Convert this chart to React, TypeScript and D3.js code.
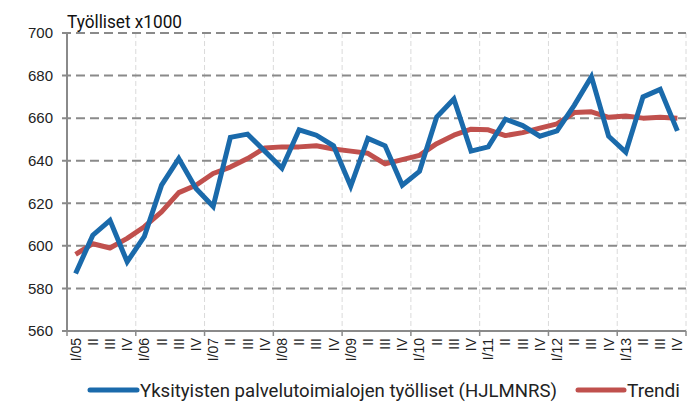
import React from "react";
import * as d3 from "d3";

const quarters = ["I/05","II","III","IV","I/06","II","III","IV","I/07","II","III","IV","I/08","II","III","IV","I/09","II","III","IV","I/10","II","III","IV","I/11","II","III","IV","I/12","II","III","IV","I/13","II","III","IV"];
const employed = [587,605,612,592.5,604.5,628.5,641,627,618.5,651,652.5,644.5,636.5,654.5,652,647,628,650.5,647,628.5,635,660.5,669,644.5,646.5,659.5,656.5,651.5,654,666,679.5,651.5,644,670,673.5,654];
const trend = [596,601,599,603.5,609,616,625,628.5,634,637,641,646,646.5,646.5,647,645.5,644.5,643.5,638.5,640.5,642.5,648,652,654.8,654.5,651.8,653.2,655.3,657.3,662.6,663,660.4,661,660,660.4,660];
const yTicks = [560,580,600,620,640,660,680,700];

const W = 696, H = 403;
const X0 = 67, X1 = 686, Y0 = 331, Y1 = 33;
const BLUE = "#1a6aab";
const RED = "#c0504d";

export default function App() {
  const x = d3.scaleBand<number>().domain(d3.range(quarters.length)).range([X0, X1]).padding(0);
  const cx = (i: number) => (x(i) as number) + x.bandwidth() / 2;
  const y = d3.scaleLinear().domain([560, 700]).range([Y0, Y1]);
  const line = d3.line<number>().x((_, i) => cx(i)).y(d => y(d));
  const yearBounds = d3.range(4, quarters.length + 1, 4).map(i => X0 + i * x.bandwidth());
  const allBounds = [X0, ...yearBounds];

  return (
    <svg width={W} height={H} style={{ position: "absolute", left: 0, top: 0 }}>
      <rect width={W} height={H} fill="#fff" />
      {yearBounds.map((xx, k) => (
        <line key={"vg" + k} x1={xx} x2={xx} y1={Y1} y2={Y0} stroke="#dadada" strokeWidth={1} strokeDasharray="5,3" />
      ))}
      {yTicks.filter(t => t > 560).map(t => (
        <line key={"hg" + t} x1={X0 - 5} x2={X1} y1={y(t)} y2={y(t)} stroke="#8a8a8a" strokeWidth={2} strokeDasharray="9,5" />
      ))}
      <line x1={X0 - 5} x2={X0} y1={Y0} y2={Y0} stroke="#8a8a8a" strokeWidth={2} />
      <line x1={X0} x2={X0} y1={Y1} y2={Y0} stroke="#8a8a8a" strokeWidth={2} />
      <line x1={X0} x2={X1} y1={Y0} y2={Y0} stroke="#8a8a8a" strokeWidth={2} />
      {allBounds.map((xx, k) => (
        <line key={"xt" + k} x1={xx} x2={xx} y1={Y0} y2={Y0 + 5} stroke="#8a8a8a" strokeWidth={1.5} />
      ))}
      {yTicks.map(t => (
        <text key={"yl" + t} x={53} y={y(t)} dy="0.35em" textAnchor="end" fontFamily="Liberation Sans, Arial, sans-serif" fontSize={15} fill="#222">{t}</text>
      ))}
      {quarters.map((q, i) => (
        <text key={"xl" + i} transform={`translate(${cx(i) + 5},${Y0 + 7}) rotate(-90)`} textAnchor="end" fontFamily="Liberation Sans, Arial, sans-serif" fontSize={14} fill="#222">{q}</text>
      ))}
      <path d={line(trend) || ""} fill="none" stroke={RED} strokeWidth={5} strokeLinejoin="round" />
      <path d={line(employed) || ""} fill="none" stroke={BLUE} strokeWidth={5} strokeLinejoin="miter" />
      <text x={67} y={28} fontFamily="Roboto, sans-serif" fontSize={19} fill="#111" textLength={115} lengthAdjust="spacingAndGlyphs">Työlliset x1000</text>
      <line x1={90} x2={137} y1={390} y2={390} stroke={BLUE} strokeWidth={5} strokeLinecap="round" />
      <text x={140} y={397} fontFamily="Roboto, sans-serif" fontSize={19} fill="#222" textLength={417} lengthAdjust="spacingAndGlyphs">Yksityisten palvelutoimialojen työlliset (HJLMNRS)</text>
      <line x1={578} x2={624} y1={390} y2={390} stroke={RED} strokeWidth={5} strokeLinecap="round" />
      <text x={627} y={397} fontFamily="Roboto, sans-serif" fontSize={19} fill="#222" textLength={53} lengthAdjust="spacingAndGlyphs">Trendi</text>
    </svg>
  );
}
